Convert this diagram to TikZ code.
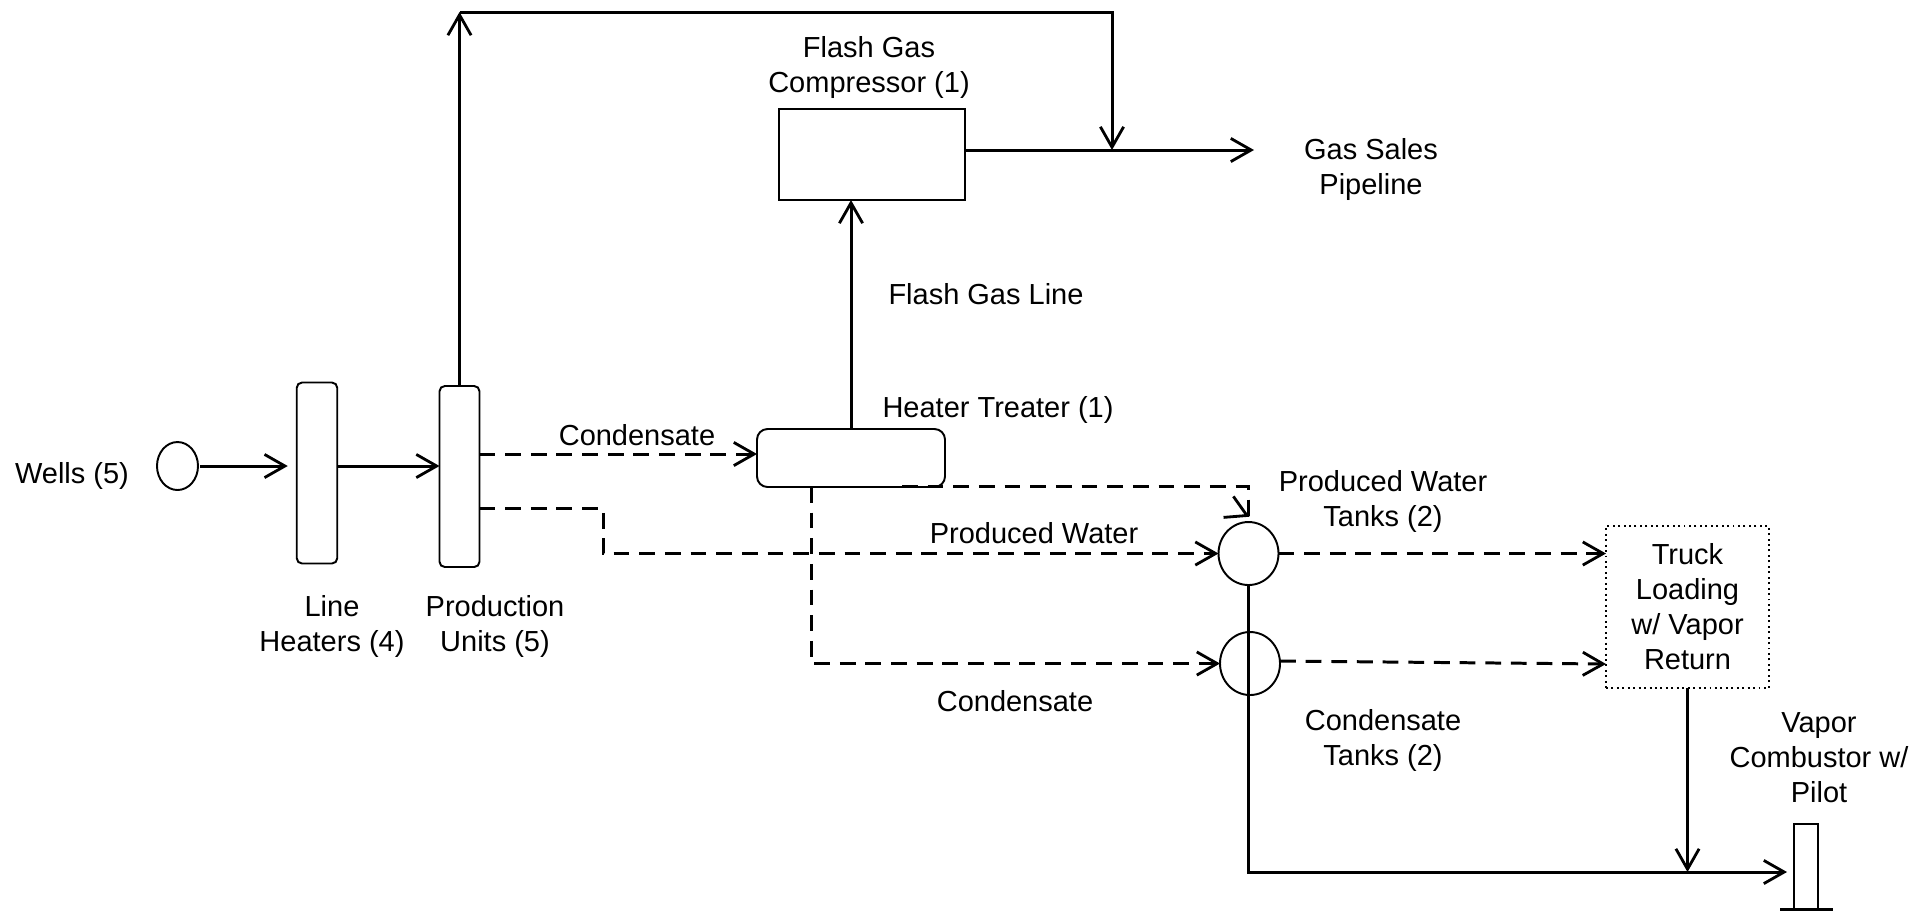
\documentclass[tikz,border=0pt]{standalone}
\usepackage{fontspec}
\setmainfont{Liberation Sans}
\usetikzlibrary{shapes,arrows.meta,positioning}

\begin{document}
\begin{tikzpicture}[
    >={Straight Barb[length=5.8pt,width=6.6pt,line width=0.8pt]},
    label/.style={align=center, inner sep=0pt, font=\fontsize{8.25}{9.96}\selectfont},
    unit/.style={rectangle, draw, line width=0.55pt, rounded corners=1.5pt, inner sep=0pt, outer sep=0pt},
    vessel/.style={ellipse, draw, line width=0.55pt, inner sep=0pt, outer sep=0pt},
    flow/.style={->, line width=0.85pt},
    dashflow/.style={->, line width=0.85pt, dash pattern=on 4.5pt off 2.8pt}
]
    \useasboundingbox (0,0) rectangle (19.11,-9.11);

    % equipment
    \node[vessel, minimum width=0.41cm, minimum height=0.48cm] (wells) at (1.775,-4.66) {};
    \node[unit, minimum width=0.405cm, minimum height=1.81cm] (heaters) at (3.17,-4.73) {};
    \node[unit, minimum width=0.40cm, minimum height=1.81cm] (produnits) at (4.595,-4.765) {};
    \node[unit, minimum width=1.88cm, minimum height=0.58cm, rounded corners=3pt] (treater) at (8.51,-4.58) {};
    \node[unit, sharp corners, minimum width=1.86cm, minimum height=0.91cm] (compressor) at (8.72,-1.545) {};
    \node[vessel, minimum width=0.60cm, minimum height=0.63cm] (watertank) at (12.485,-5.535) {};
    \node[vessel, minimum width=0.60cm, minimum height=0.63cm] (condtank) at (12.50,-6.635) {};
    \node[rectangle, draw, densely dotted, line width=0.55pt, inner sep=0pt, outer sep=0pt, minimum width=1.63cm, minimum height=1.62cm, label, font=\fontsize{8.25}{9.96}\selectfont] (truck) at (16.875,-6.07) {Truck\\Loading\\w/ Vapor\\Return};
    \node[unit, sharp corners, minimum width=0.24cm, minimum height=0.86cm] (combustor) at (18.06,-8.67) {};

    % labels
    \node[label] (wellslbl) at (0.72,-4.76) {Wells (5)};
    \node[label] (heaterslbl) at (3.32,-6.26) {Line\\Heaters (4)};
    \node[label] (unitslbl) at (4.95,-6.26) {Production\\Units (5)};
    \node[label] (comprlbl) at (8.69,-0.67) {Flash Gas\\Compressor (1)};
    \node[label] (saleslbl) at (13.71,-1.69) {Gas Sales\\Pipeline};
    \node[label] (linelbl) at (9.86,-2.94) {Flash Gas Line};
    \node[label] (treaterlbl) at (9.98,-4.095) {Heater Treater (1)};
    \node[label] (cond1lbl) at (6.37,-4.35) {Condensate};
    \node[label] (waterlbl) at (10.34,-5.33) {Produced Water};
    \node[label] (cond2lbl) at (10.15,-7.01) {Condensate};
    \node[label] (watertanklbl) at (13.83,-5.015) {Produced Water\\Tanks (2)};
    \node[label] (condtanklbl) at (13.83,-7.40) {Condensate\\Tanks (2)};
    \node[label] (combustorlbl) at (18.19,-7.58) {Vapor\\Combustor w/\\Pilot};

    % free ends
    \coordinate (topleft) at (4.595,-0.12);
    \coordinate (merge) at (11.12,-1.50);
    \coordinate (salesout) at (12.54,-1.50);
    \coordinate (combin) at (17.87,-8.72);
    \coordinate (basel) at (17.80,-9.09);
    \coordinate (baser) at (18.33,-9.09);

    % gas side
    \draw[flow, shorten <=0.02cm, shorten >=0.09cm] (wells.east) -- (heaters.west |- wells.east);
    \draw[flow] (heaters.east |- wells.east) -- (produnits.west |- wells.east);
    \draw[flow] (produnits.north) -- (topleft);
    \draw[flow] (topleft) -| (merge);
    \draw[flow] (compressor.east |- merge) -- (salesout);
    \draw[flow] (treater.north) -- (treater.north |- compressor.south);

    % liquid side
    \draw[dashflow] (produnits.east |- 0,-4.54) -- (treater.west |- 0,-4.54);
    \draw[dashflow] (produnits.east |- 0,-5.08) -- (6.03,-5.08) -- (6.03,-5.535) -- (watertank.west);
    \draw[dashflow] (8.11,-4.87) -- (8.11,-6.635) -- (condtank.west);
    \draw[dashflow] (9.02,-4.865) -- (12.48,-4.865) -- (12.48,-5.16) -- (12.495,-5.167);
    \draw[dashflow] (watertank.east) -- (truck.west |- watertank.east);
    \draw[dashflow] (condtank.east |- 0,-6.61) -- (truck.west |- 0,-6.64);

    % vapor side
    \draw[flow] (watertank.south) |- (combin);
    \draw[flow] (truck.south) -- (truck.south |- combin);
    \draw[line width=0.85pt] (basel) -- (baser);
\end{tikzpicture}
\end{document}
